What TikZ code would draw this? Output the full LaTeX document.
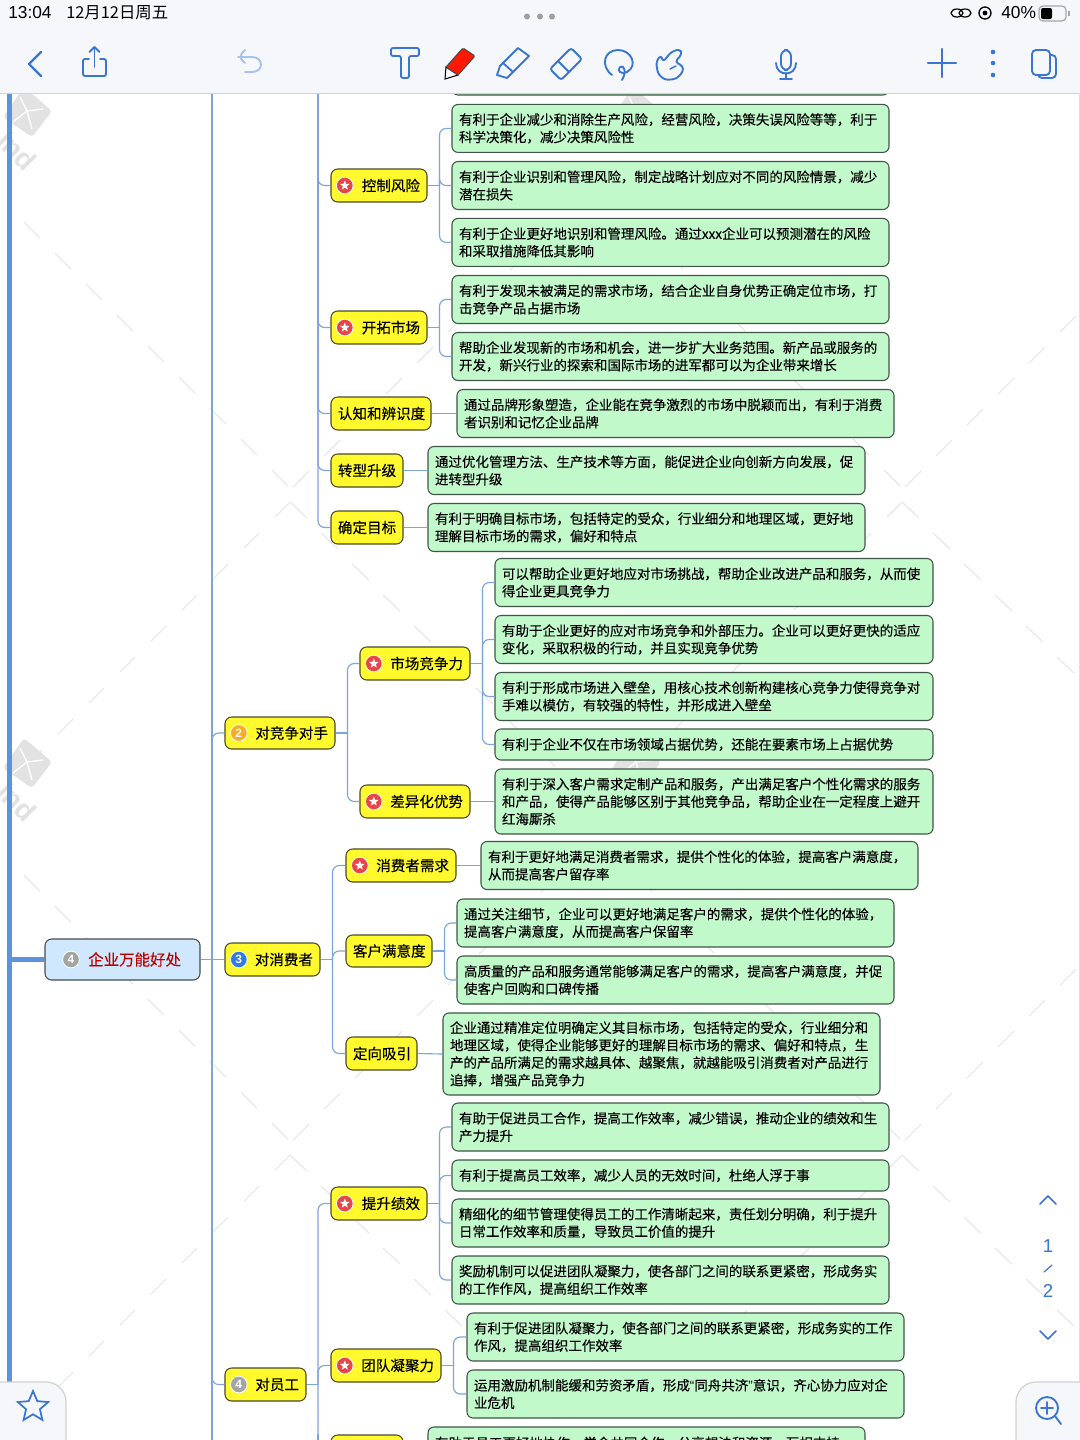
\documentclass[tikz,border=0pt]{standalone}
\usepackage{fontspec}
\setmainfont{Noto Sans CJK SC}
\newfontfamily\topicfont[FakeBold=0.25]{Noto Sans CJK SC}
\newfontfamily\leaffont[FakeBold=0.1]{Noto Sans CJK SC}
\newfontfamily\uifont{Liberation Sans}
\usetikzlibrary{shapes.geometric}
\definecolor{leaffill}{HTML}{C2F9CB}
\definecolor{leafedge}{HTML}{3F5548}
\definecolor{topicfill}{HTML}{FFF92E}
\definecolor{topicedge}{HTML}{4A4A28}
\definecolor{rootfill}{HTML}{CFE8FD}
\definecolor{rootedge}{HTML}{444C54}
\definecolor{linkblue}{HTML}{7BA5DC}
\definecolor{trunk}{HTML}{5B93DC}
\definecolor{uiblue}{HTML}{3A75D2}
\definecolor{uibg}{HTML}{F5F7FB}
\definecolor{wm}{HTML}{E6E6E6}
\definecolor{wmlogo}{HTML}{E2E2E2}
\definecolor{redm}{HTML}{E84548}
\definecolor{orangem}{HTML}{F9AB24}
\definecolor{bluem}{HTML}{2F7BE2}
\definecolor{graym}{HTML}{A4A4A4}
\tikzset{
  x=0.75pt,y=-0.75pt,
  leafbox/.style={draw=leafedge,fill=leaffill,line width=0.8pt,rounded corners=4.5pt,inner sep=0pt,align=left,font=\leaffont\fontsize{10.12pt}{13.1pt}\selectfont},
  topicbox/.style={draw=topicedge,fill=topicfill,line width=0.8pt,rounded corners=5pt,inner sep=0pt,align=right,font=\topicfont\fontsize{10.9pt}{13pt}\selectfont},
  rootbox/.style={draw=rootedge,fill=rootfill,line width=0.8pt,rounded corners=5pt,inner sep=0pt,align=right,text=red!75!black,font=\topicfont\fontsize{11.6pt}{14pt}\selectfont},
  conn/.style={draw=linkblue,line width=0.85pt},
  connr/.style={draw=linkblue,line width=0.85pt,rounded corners=5pt},
  mark disc/.style={circle,fill=#1,draw=white,line width=0.6pt,minimum size=12.5pt,inner sep=0pt,text=white,font=\uifont\bfseries\fontsize{9pt}{9pt}\selectfont},
  star tip/.style={star,star points=5,star point ratio=2.3,fill=white,inner sep=0pt,minimum size=7.5pt},
  wmdash/.style={draw=wm,line width=0.8pt},
  uiline/.style={draw=uiblue,line width=1.4pt,line join=round,line cap=round},
  uitext/.style={inner sep=0pt,font=\uifont\fontsize{13pt}{14pt}\selectfont},
}
\newcommand\leafnode[6]{%
  \pgfmathsetmacro\cxv{(#2+#4)/2}\pgfmathsetmacro\cyv{(#3+#5)/2}%
  \pgfmathsetmacro\wv{(#4-#2)*0.75}\pgfmathsetmacro\hv{(#5-#3)*0.75}\pgfmathsetmacro\tv{(#4-#2-14)*0.75}%
  \node[leafbox,minimum width=\wv pt,minimum height=\hv pt,text width=\tv pt] (#1) at (\cxv,\cyv) {#6};}
\newcommand\topicnode[6]{%
  \pgfmathsetmacro\cxv{(#2+#4)/2}\pgfmathsetmacro\cyv{(#3+#5)/2}%
  \pgfmathsetmacro\wv{(#4-#2)*0.75}\pgfmathsetmacro\hv{(#5-#3)*0.75}\pgfmathsetmacro\tv{(#4-#2-14)*0.75}%
  \node[topicbox,minimum width=\wv pt,minimum height=\hv pt,text width=\tv pt] (#1) at (\cxv,\cyv) {#6};}
\newcommand\starmark[1]{%
  \node[mark disc=redm,right=4.2pt] (#1m) at (#1.west) {};
  \node[star tip] (#1s) at (#1m.center) {};}
\newcommand\nummark[3]{\node[mark disc=#2,right=4.2pt] (#1m) at (#1.west) {#3};}
\newcommand\linkto[2]{%
  \draw[conn] (#1.east) -- ([xshift=9pt]#1.east);
  \draw[connr] ([xshift=9pt]#1.east) |- (#2.west);}
\begin{document}
\begin{tikzpicture}
\useasboundingbox (0,0) rectangle (1080,1440);
\clip (0,0) rectangle (1080,1440);
\fill[white] (0,0) rectangle (1080,1440);

% watermark lattice
\foreach \cx in {290,902}{
 \foreach \cy in {487,1140}{
  \foreach \k in {0,...,8}{
   \pgfmathsetmacro\s{31*\k}
   \draw[wmdash] (\cx-18-\s,\cy-17-\s) -- (\cx-2-\s,\cy-1-\s);
   \draw[wmdash] (\cx+3+\s,\cy-\s) -- (\cx+19+\s,\cy-16-\s);
   \draw[wmdash] (\cx-\s,\cy+15+\s) -- (\cx-15-\s,\cy+30+\s);
   \draw[wmdash] (\cx+\s,\cy+15+\s) -- (\cx+17+\s,\cy+31+\s);
  }
 }
}
\foreach \lx/\ly in {28/112,28/763,637/112,637/763}{
  \begin{scope}[shift={(\lx,\ly)}]
   \fill[wmlogo,rounded corners=2.5pt] (-4,-25) -- (24,-1) -- (4,25) -- (-25,5) -- cycle;
   \draw[white,line width=1pt] (-8,-15) -- (-1,-1) -- (4,17);
   \draw[white,line width=1pt] (15,-3) -- (-1,-1) -- (-15,10);
  \end{scope}
}
\node[rotate=-45,anchor=east,text=wmlogo,inner sep=0pt,font=\uifont\bfseries\fontsize{21pt}{21pt}\selectfont] (wmta) at (32,166) {ind};
\node[rotate=-45,anchor=east,text=wmlogo,inner sep=0pt,font=\uifont\bfseries\fontsize{21pt}{21pt}\selectfont] (wmtb) at (32,817) {ind};

% trunk
\coordinate (trunktop) at (9.5,90);
\coordinate (trunkbot) at (9.5,1400);
\draw[draw=trunk,line width=3.6pt] (trunktop) -- (trunkbot);

% nodes
\pgfmathsetmacro\rw{155*0.75}\pgfmathsetmacro\rh{41*0.75}\pgfmathsetmacro\rt{(155-38)*0.75}
\node[rootbox,minimum width=\rw pt,minimum height=\rh pt,text width=\rt pt] (root) at (122.5,959.5) {企业万能好处};
\topicnode{comp}{225}{717}{335}{749}{对竞争对手}
\topicnode{cons}{225}{943}{320}{976}{对消费者}
\topicnode{staff}{225}{1368}{306}{1401}{对员工}

\topicnode{risk}{331}{169}{427}{202}{控制风险}
\leafnode{r1}{452}{104.4}{889}{152.4}{有利于企业减少和消除生产风险，经营风险，决策失误风险等等，利于\\科学决策化，减少决策风险性}
\leafnode{r2}{452}{161.5}{889}{209.5}{有利于企业识别和管理风险，制定战略计划应对不同的风险情景，减少\\潜在损失}
\leafnode{r3}{452}{218.4}{889}{266.4}{有利于企业更好地识别和管理风险。通过xxx企业可以预测潜在的风险\\和采取措施降低其影响}
\topicnode{mkt}{331}{311}{427}{344}{开拓市场}
\leafnode{m1}{452}{275.5}{889}{323.5}{有利于发现未被满足的需求市场，结合企业自身优势正确定位市场，打\\击竞争产品占据市场}
\leafnode{m2}{452}{332.5}{889}{380.5}{帮助企业发现新的市场和机会，进一步扩大业务范围。新产品或服务的\\开发，新兴行业的探索和国际市场的进军都可以为企业带来增长}
\topicnode{brand}{331}{397}{431}{430}{认知和辨识度}
\leafnode{b1}{457}{389.5}{894}{437.5}{通过品牌形象塑造，企业能在竞争激烈的市场中脱颖而出，有利于消费\\者识别和记忆企业品牌}
\topicnode{trans}{331}{454}{403}{487}{转型升级}
\leafnode{t1}{428}{446.5}{865}{494.5}{通过优化管理方法、生产技术等方面，能促进企业向创新方向发展，促\\进转型升级}
\topicnode{goal}{331}{511}{403}{544}{确定目标}
\leafnode{g1}{428}{503.5}{865}{551.5}{有利于明确目标市场，包括特定的受众，行业细分和地理区域，更好地\\理解目标市场的需求，偏好和特点}

\topicnode{power}{360}{647}{470}{680}{市场竞争力}
\leafnode{p1}{495}{558.5}{933}{606.5}{可以帮助企业更好地应对市场挑战，帮助企业改进产品和服务，从而使\\得企业更具竞争力}
\leafnode{p2}{495}{615.5}{933}{663.5}{有助于企业更好的应对市场竞争和外部压力。企业可以更好更快的适应\\变化，采取积极的行动，并且实现竞争优势}
\leafnode{p3}{495}{672.5}{933}{720.5}{有利于形成市场进入壁垒，用核心技术创新构建核心竞争力使得竞争对\\手难以模仿，有较强的特性，并形成进入壁垒}
\leafnode{p4}{495}{729}{933}{760}{有利于企业不仅在市场领域占据优势，还能在要素市场上占据优势}
\topicnode{diff}{360}{785}{470}{818}{差异化优势}
\leafnode{d1}{495}{769}{933}{834}{有利于深入客户需求定制产品和服务，产出满足客户个性化需求的服务\\和产品，使得产品能够区别于其他竞争品，帮助企业在一定程度上避开\\红海厮杀}

\topicnode{need}{346}{849}{456}{882}{消费者需求}
\leafnode{n1}{481}{841.5}{918}{889.5}{有利于更好地满足消费者需求，提供个性化的体验，提高客户满意度，\\从而提高客户留存率}
\topicnode{sat}{346}{935}{432}{967}{客户满意度}
\leafnode{s1}{457}{899}{894}{947}{通过关注细节，企业可以更好地满足客户的需求，提供个性化的体验，\\提高客户满意度，从而提高客户保留率}
\leafnode{s2}{457}{956}{894}{1004}{高质量的产品和服务通常能够满足客户的需求，提高客户满意度，并促\\使客户回购和口碑传播}
\topicnode{aim}{346}{1037}{417}{1070}{定向吸引}
\leafnode{a1}{443}{1013}{880}{1095}{企业通过精准定位明确定义其目标市场，包括特定的受众，行业细分和\\地理区域，使得企业能够更好的理解目标市场的需求、偏好和特点，生\\产的产品所满足的需求越具体、越聚焦，就越能吸引消费者对产品进行\\追捧，增强产品竞争力}

\topicnode{perf}{331}{1187}{427}{1220}{提升绩效}
\leafnode{f1}{452}{1103}{889}{1151}{有助于促进员工合作，提高工作效率，减少错误，推动企业的绩效和生\\产力提升}
\leafnode{f2}{452}{1160}{889}{1191}{有利于提高员工效率，减少人员的无效时间，杜绝人浮于事}
\leafnode{f3}{452}{1199}{889}{1247}{精细化的细节管理使得员工的工作清晰起来，责任划分明确，利于提升\\日常工作效率和质量，导致员工价值的提升}
\leafnode{f4}{452}{1256}{889}{1304}{奖励机制可以促进团队凝聚力，使各部门之间的联系更紧密，形成务实\\的工作作风，提高组织工作效率}
\topicnode{team}{331}{1349}{441}{1382}{团队凝聚力}
\leafnode{e1}{467}{1313}{904}{1361}{有利于促进团队凝聚力，使各部门之间的联系更紧密，形成务实的工作\\作风，提高组织工作效率}
\leafnode{e2}{467}{1370}{904}{1418}{运用激励机制能缓和劳资矛盾，形成{\uifont “}同舟共济{\uifont ”}意识，齐心协力应对企\\业危机}
\topicnode{more}{331}{1435}{403}{1470}{\mbox{}}
\leafnode{o1}{428}{1427}{865}{1475}{有助于员工更好地协作，学会共同合作，分享想法和资源，互相支持\\\mbox{}}
\leafnode{top}{452}{40}{889}{95}{\mbox{}}

% markers
\node[mark disc=graym] (rootm) at (71,959.5) {4};
\nummark{comp}{orangem}{2}
\nummark{cons}{bluem}{3}
\nummark{staff}{graym}{4}
\foreach \nn in {risk,mkt,power,diff,need,perf,team}{\starmark{\nn}}

% connectors
\coordinate (topa) at (212,90);
\coordinate (bota) at (212,1445);
\coordinate (topb) at (318,90);
\coordinate (botb) at (318,1445);
\coordinate (jroot) at (45,959.5);
\draw[draw=trunk,line width=3.6pt] (trunktop |- jroot) -- (root.west);
\draw[conn] (topa) -- (bota);
\foreach \kid in {comp,staff}{\draw[connr] (topa |- root.east) |- (\kid.west);}
\draw[conn] (root.east) -- (cons.west);
\foreach \kid in {risk,mkt,brand,trans}{\draw[connr] (topb) |- (\kid.west);}
\draw[connr] (topb) |- (goal.west);
\draw[conn] (staff.east) -- (topb |- staff.east);
\draw[connr] (perf.west) -| (topb |- staff.east);
\draw[connr] (team.west) -| (topb |- staff.east);
\draw[connr] (more.west) -| (topb |- staff.east);
\draw[conn] (topb |- more.north) -- (botb);
\linkto{risk}{r1}\linkto{risk}{r2}\linkto{risk}{r3}
\linkto{mkt}{m1}\linkto{mkt}{m2}
\draw[conn] (brand.east) -- (b1.west);
\draw[conn] (trans.east) -- (t1.west);
\draw[conn] (goal.east) -- (g1.west);
\linkto{comp}{power}\linkto{comp}{diff}
\linkto{power}{p1}\linkto{power}{p2}\linkto{power}{p3}\linkto{power}{p4}
\draw[conn] (diff.east) -- (d1.west);
\linkto{cons}{need}\linkto{cons}{sat}\linkto{cons}{aim}
\draw[conn] (need.east) -- (n1.west);
\linkto{sat}{s1}\linkto{sat}{s2}
\draw[conn] (aim.east) -- (a1.west);
\linkto{perf}{f1}\linkto{perf}{f2}\linkto{perf}{f3}\linkto{perf}{f4}
\linkto{team}{e1}\linkto{team}{e2}

% toolbar
\fill[uibg] (0,0) rectangle (1080,93);
\draw[draw=gray!35,line width=0.8pt] (0,93.5) -- (1080,93.5);
\node[uitext,anchor=west] (clock) at (8,13) {13:04};
\node[anchor=west,inner sep=0pt,font=\fontsize{12.3pt}{14pt}\selectfont] (date) at (66,13) {12月12日周五};
\node[uitext,anchor=west] (batt) at (1001,13) {40\%};
\foreach \dx in {527,540,552}{\fill[gray!75] (\dx,16.5) circle (3);}
% status icons
\draw[line width=0.9pt] (957,13) ellipse (6 and 4);
\draw[line width=0.9pt] (965,13) ellipse (6 and 4);
\draw[line width=1pt] (985,13) circle (6);
\fill (985,13) circle (2.4);
\draw[gray!70,line width=0.9pt,rounded corners=3pt] (1039,6) rectangle (1066,21);
\fill[rounded corners=1.5pt] (1041,8) rectangle (1052,19);
\fill[gray!70] (1068,11) rectangle (1069.5,16);
% tools
\draw[uiline,line width=1.7pt] (41,52) -- (29,64) -- (41,76);
\draw[uiline,rounded corners=1.5pt] (89,59) -- (83,59) -- (83,76) -- (106,76) -- (106,59) -- (100,59);
\draw[uiline] (94.5,67) -- (94.5,47);
\draw[uiline] (89.5,52) -- (94.5,47) -- (99.5,52);
\draw[uiline,draw=uiblue!45,rounded corners=5pt] (245,50) -- (238,57) -- (245,63);
\draw[uiline,draw=uiblue!45] (238,57) -- (252,57) .. controls (264,57) and (264,72) .. (252,72) -- (245,72);
\draw[uiline,rounded corners=1.5pt] (391,48) -- (419,48) -- (419,56) -- (409,56) -- (409,78) -- (401,78) -- (401,56) -- (391,56) -- cycle;
\fill[draw=black,fill=white,line width=0.8pt] (446,67) -- (458,75) -- (445,79) -- cycle;
\fill[draw=black!70,fill=red!80!orange,line width=0.8pt,rounded corners=1pt] (463,48) -- (475,56) -- (458,75) -- (446,67) -- cycle;
\draw[uiline] (518,48) -- (529,56) -- (513,72) -- (507,78) -- (497,75) -- (500,66) -- (503,63) -- cycle;
\draw[uiline] (503,63) -- (513,72);
\draw[uiline,rounded corners=2pt] (571,48) -- (582,59) -- (561,80) -- (550,69) -- cycle;
\draw[uiline] (558,61) -- (569,72);
\draw[uiline] (612,75) .. controls (600,66) and (604,50) .. (618,50) .. controls (632,50) and (638,66) .. (627,72) .. controls (622,75) and (616,71) .. (620,67) .. controls (624,64) and (627,72) .. (622,80);
\draw[uiline,rounded corners=2.5pt] (661,55) -- (663,62) -- (671,52) -- (680,49) -- (682,54) -- (675,62) -- (683,66) -- (683,72) -- (676,79) -- (665,80) -- (658,74) -- (656,62) -- cycle;
\draw[uiline,line width=1.1pt] (676,66) -- (670,69);
\draw[uiline,rounded corners=4.8pt] (781,50) rectangle (791,70);
\draw[uiline] (776,63) .. controls (776,77) and (796,77) .. (796,63);
\draw[uiline] (786,73) -- (786,79);
\draw[uiline] (780,79) -- (792,79);
\draw[uiline,line width=1.6pt] (928,63) -- (956,63);
\draw[uiline,line width=1.6pt] (942,49) -- (942,77);
\foreach \dy in {52,63,75}{\fill[uiblue] (993,\dy) circle (2.3);}
\draw[uiline,rounded corners=3pt] (1038,55) rectangle (1056,78);
\draw[uiline,fill=uibg,rounded corners=3pt] (1032,50) rectangle (1050,75);

% side controls
\draw[draw=gray!25,line width=0.8pt] (1079.5,93) -- (1079.5,1440);
\draw[uiline,line width=1.1pt] (1040,1204) -- (1048,1196) -- (1056,1204);
\node[text=uiblue,inner sep=0pt,font=\uifont\fontsize{14pt}{14pt}\selectfont] (pg1) at (1048,1246) {1};
\draw[uiline,line width=0.9pt] (1044,1272) -- (1052,1265);
\node[text=uiblue,inner sep=0pt,font=\uifont\fontsize{14pt}{14pt}\selectfont] (pg2) at (1048,1291) {2};
\draw[uiline,line width=1.1pt] (1040,1331) -- (1048,1339) -- (1056,1331);

\draw[draw=gray!35,fill=uibg,line width=0.9pt,rounded corners=15pt] (-20,1500) -- (-20,1382) -- (66,1382) -- (66,1500);
\node[star,star points=5,star point ratio=2.2,draw=uiblue,line width=1.3pt,inner sep=0pt,minimum size=24pt] (favstar) at (33,1407) {};
\draw[draw=gray!35,fill=uibg,line width=0.9pt,rounded corners=15pt] (1100,1500) -- (1100,1382) -- (1016,1382) -- (1016,1500);
\draw[uiline] (1047,1408) circle (11);
\draw[uiline] (1055,1416) -- (1061,1424);
\draw[uiline] (1041,1408) -- (1053,1408);
\draw[uiline] (1047,1402) -- (1047,1414);
\end{tikzpicture}
\end{document}
